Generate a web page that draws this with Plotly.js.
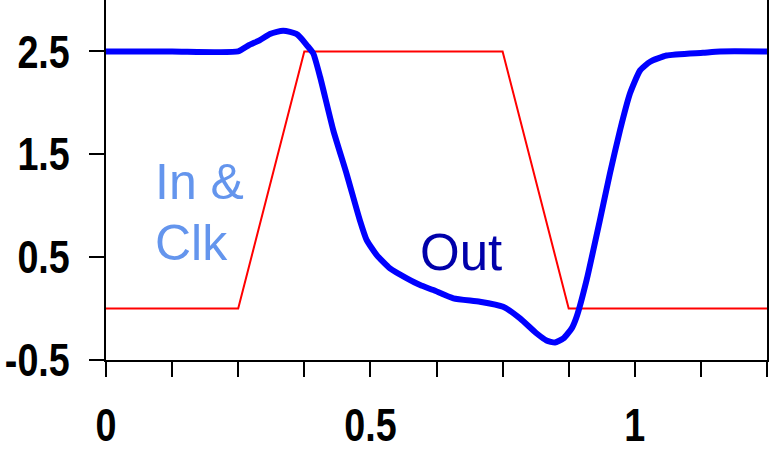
<!DOCTYPE html>
<html>
<head>
<meta charset="utf-8">
<script src="https://cdn.plot.ly/plotly-3.0.1.min.js"></script>
<style>html,body{margin:0;padding:0;background:#fff;}#chart{width:769px;height:450px;}</style>
</head>
<body>
<div id="chart"></div>
<script>
// In & Clk (red) waveform
var inX = [0, 0.25, 0.375, 0.75, 0.875, 1.25];
var inY = [0, 0, 2.5, 2.5, 0, 0];

// Out (blue) waveform
var outX = [0, 0.125, 0.25, 0.27, 0.291, 0.31, 0.323, 0.335, 0.348, 0.36, 0.367, 0.38, 0.392, 0.405, 0.43, 0.455, 0.48, 0.493, 0.512, 0.537, 0.569, 0.594, 0.619, 0.657, 0.707, 0.751, 0.783, 0.814, 0.833, 0.849, 0.865, 0.881, 0.89, 0.909, 0.934, 0.953, 0.972, 0.991, 1.01, 1.029, 1.06, 1.129, 1.161, 1.25];
var outY = [2.5, 2.5, 2.5, 2.56, 2.61, 2.67, 2.69, 2.70, 2.69, 2.67, 2.64, 2.56, 2.48, 2.25, 1.73, 1.31, 0.86, 0.665, 0.52, 0.39, 0.293, 0.228, 0.18, 0.099, 0.067, 0.018, -0.095, -0.24, -0.31, -0.33, -0.29, -0.19, -0.08, 0.28, 0.86, 1.315, 1.733, 2.093, 2.316, 2.40, 2.46, 2.487, 2.5, 2.5];

// Tick labels
var xTickVals = [0, 0.125, 0.25, 0.375, 0.5, 0.625, 0.75, 0.875, 1, 1.125, 1.25];
var xTickText = ['0', '', '', '', '0.5', '', '', '', '1', '', ''];
var yTickVals = [-0.5, 0.5, 1.5, 2.5];
var yTickText = ['-0.5', '0.5', '1.5', '2.5'];

var tickFont = {family: '"Liberation Sans Narrow", "Arial Narrow", "Liberation Sans", Arial, sans-serif', size: 46, weight: 'bold', color: '#000'};
var annFont = '"Liberation Sans", Arial, sans-serif';

var traces = [
  {x: inX, y: inY, mode: 'lines', line: {color: '#ff0000', width: 2}, hoverinfo: 'none'},
  {x: outX, y: outY, mode: 'lines', line: {color: '#0000ff', width: 6, shape: 'spline', smoothing: 0.5}, hoverinfo: 'none'}
];

var layout = {
  width: 769, height: 450,
  margin: {l: 106, r: 2, t: 0, b: 90},
  paper_bgcolor: '#fff', plot_bgcolor: '#fff',
  showlegend: false,
  xaxis: {
    range: [0, 1.25], tickmode: 'array', tickvals: xTickVals, ticktext: xTickText,
    showline: true, linecolor: '#000', linewidth: 2, mirror: true,
    ticks: 'outside', ticklen: 15, tickwidth: 2, tickcolor: '#000',
    showgrid: false, zeroline: false, tickfont: tickFont, ticklabelstandoff: 9
  },
  yaxis: {
    range: [-0.5, 3.0], tickmode: 'array', tickvals: yTickVals, ticktext: yTickText,
    showline: true, linecolor: '#000', linewidth: 2, mirror: true,
    ticks: 'outside', ticklen: 15, tickwidth: 2, tickcolor: '#000',
    showgrid: false, zeroline: false, tickfont: tickFont, ticklabelstandoff: 10
  },
  annotations: [
    {text: 'In &', x: 0.088, y: 1.234, xref: 'x', yref: 'y', xanchor: 'left', yanchor: 'middle', showarrow: false,
     font: {family: annFont, size: 50, color: '#6495ED'}},
    {text: 'Clk', x: 0.088, y: 0.635, xref: 'x', yref: 'y', xanchor: 'left', yanchor: 'middle', showarrow: false,
     font: {family: annFont, size: 50, color: '#6495ED'}},
    {text: 'Out', x: 0.59, y: 0.547, xref: 'x', yref: 'y', xanchor: 'left', yanchor: 'middle', showarrow: false,
     font: {family: annFont, size: 51, color: '#0000AA'}}
  ]
};

// Narrow the bold tick labels horizontally (condensed look, like the reference)
function condenseTicks() {
  var texts = document.querySelectorAll('#chart .xtick text, #chart .ytick text');
  texts.forEach(function (t) {
    var x = parseFloat(t.getAttribute('x')) || 0;
    var tr = t.getAttribute('transform') || '';
    t.setAttribute('transform', tr + ' translate(' + x + ',0) scale(0.82,1) translate(' + (-x) + ',0)');
  });
}

Plotly.newPlot('chart', traces, layout, {displayModeBar: false, staticPlot: true}).then(condenseTicks);
</script>
</body>
</html>
